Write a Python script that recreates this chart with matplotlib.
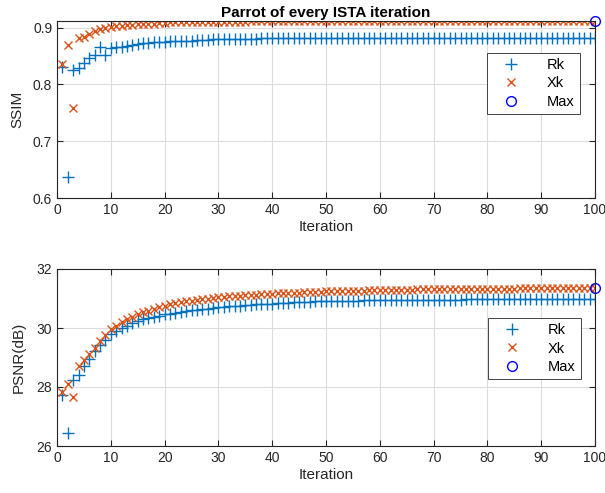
import matplotlib
matplotlib.use("Agg")
import matplotlib.pyplot as plt
import numpy as np

plt.rcParams['font.family'] = ['Liberation Sans', 'DejaVu Sans']

iterations = list(range(1, 101))

ssim_rk = [0.830, 0.637, 0.826, 0.829, 0.838, 0.846, 0.851, 0.866, 0.852, 0.864,
           0.866, 0.866, 0.867, 0.869, 0.871, 0.872, 0.873, 0.874, 0.874, 0.875,
           0.876, 0.876, 0.877, 0.877, 0.877, 0.878, 0.878, 0.878, 0.879, 0.879,
           0.879, 0.879, 0.880, 0.880, 0.880, 0.880, 0.880, 0.881, 0.881, 0.881,
           0.881, 0.881, 0.881, 0.881, 0.881, 0.881, 0.881, 0.882, 0.882, 0.882,
           0.882, 0.882, 0.882, 0.882, 0.882, 0.882, 0.882, 0.882, 0.882, 0.882,
           0.882, 0.882, 0.882, 0.882, 0.882, 0.882, 0.882, 0.882, 0.882, 0.882,
           0.882, 0.882, 0.882, 0.882, 0.882, 0.882, 0.882, 0.882, 0.882, 0.882,
           0.882, 0.882, 0.882, 0.882, 0.882, 0.882, 0.882, 0.882, 0.882, 0.882,
           0.882, 0.882, 0.882, 0.882, 0.882, 0.882, 0.882, 0.882, 0.882, 0.882]

ssim_xk = [0.835, 0.870, 0.758, 0.881, 0.883, 0.888, 0.893, 0.897, 0.899, 0.901,
           0.902, 0.903, 0.904, 0.905, 0.906, 0.906, 0.907, 0.907, 0.908, 0.908,
           0.909, 0.909, 0.909, 0.910, 0.910, 0.910, 0.910, 0.910, 0.9105, 0.9105,
           0.9105, 0.9105, 0.9105, 0.9105, 0.9105, 0.911, 0.911, 0.911, 0.911, 0.911,
           0.911, 0.911, 0.911, 0.911, 0.911, 0.911, 0.911, 0.911, 0.911, 0.911,
           0.911, 0.911, 0.911, 0.911, 0.911, 0.911, 0.911, 0.911, 0.911, 0.911,
           0.9112, 0.9112, 0.9112, 0.9112, 0.9112, 0.9112, 0.9112, 0.9112, 0.9112, 0.9112,
           0.9114, 0.9114, 0.9114, 0.9114, 0.9114, 0.9114, 0.9114, 0.9114, 0.9114, 0.9114,
           0.9116, 0.9116, 0.9116, 0.9116, 0.9116, 0.9116, 0.9116, 0.9116, 0.9116, 0.9116,
           0.9118, 0.9118, 0.9118, 0.9118, 0.9118, 0.9118, 0.9118, 0.9118, 0.9118, 0.9120]

psnr_rk = [27.72, 26.45, 28.24, 28.40, 28.70, 28.96, 29.22, 29.44, 29.60, 29.78,
           29.90, 30.00, 30.08, 30.16, 30.23, 30.29, 30.34, 30.38, 30.42, 30.46,
           30.49, 30.52, 30.55, 30.58, 30.60, 30.62, 30.64, 30.66, 30.68, 30.70,
           30.72, 30.73, 30.75, 30.76, 30.78, 30.79, 30.80, 30.81, 30.82, 30.83,
           30.84, 30.85, 30.86, 30.87, 30.88, 30.88, 30.89, 30.90, 30.90, 30.91,
           30.91, 30.92, 30.92, 30.93, 30.93, 30.93, 30.94, 30.94, 30.94, 30.94,
           30.94, 30.94, 30.94, 30.94, 30.95, 30.95, 30.95, 30.96, 30.96, 30.96,
           30.96, 30.96, 30.96, 30.96, 30.96, 30.97, 30.97, 30.97, 30.97, 30.97,
           30.97, 30.97, 30.97, 30.97, 30.97, 30.97, 30.97, 30.97, 30.97, 30.97,
           30.97, 30.97, 30.97, 30.97, 30.97, 30.97, 30.97, 30.97, 30.97, 30.97]

psnr_xk = [27.84, 28.10, 27.67, 28.70, 28.92, 29.12, 29.32, 29.55, 29.75, 29.95,
           30.08, 30.20, 30.30, 30.38, 30.46, 30.53, 30.59, 30.65, 30.70, 30.75,
           30.80, 30.84, 30.87, 30.90, 30.93, 30.96, 30.98, 31.00, 31.02, 31.04,
           31.06, 31.07, 31.09, 31.10, 31.11, 31.12, 31.13, 31.14, 31.15, 31.16,
           31.17, 31.18, 31.19, 31.20, 31.20, 31.21, 31.22, 31.22, 31.23, 31.24,
           31.24, 31.25, 31.25, 31.26, 31.26, 31.27, 31.27, 31.28, 31.28, 31.29,
           31.29, 31.29, 31.30, 31.30, 31.30, 31.30, 31.31, 31.31, 31.31, 31.31,
           31.31, 31.32, 31.32, 31.32, 31.32, 31.32, 31.32, 31.33, 31.33, 31.33,
           31.33, 31.33, 31.33, 31.33, 31.33, 31.34, 31.34, 31.34, 31.34, 31.34,
           31.34, 31.34, 31.34, 31.34, 31.345, 31.345, 31.345, 31.345, 31.345, 31.35]

title = "Parrot of every ISTA iteration"
legend_labels = ["Rk", "Xk", "Max"]

C_BLUE = '#0072BD'
C_ORANGE = '#D95319'
AX_COLOR = '#262626'

fig = plt.figure(figsize=(6.05, 4.93), dpi=100)
fig.patch.set_facecolor('white')

ax1 = fig.add_axes([57/605, 1-198/493, 538/605, 177.3/493])
ax2 = fig.add_axes([57/605, 1-446/493, 538/605, 177/493])


def style(ax):
    ax.grid(True, color='#dcdcdc', linewidth=0.8)
    ax.set_axisbelow(True)
    for s in ax.spines.values():
        s.set_color(AX_COLOR)
        s.set_linewidth(0.8)
    ax.tick_params(direction='in', top=True, right=True, length=4,
                   color=AX_COLOR, labelsize=10, labelcolor=AX_COLOR, width=0.8)
    ax.set_xlim(0, 100)
    ax.set_xticks(range(0, 101, 10))


def draw(ax, rk, xk):
    ax.plot(iterations, rk, linestyle='none', marker='+', color=C_BLUE,
            markersize=8, markeredgewidth=1.0, label=legend_labels[0])
    ax.plot(iterations, xk, linestyle='none', marker='x', color=C_ORANGE,
            markersize=6, markeredgewidth=1.0, label=legend_labels[1])
    arr = np.asarray(xk)
    i = len(arr) - 1 - int(np.argmax(arr[::-1]))
    ax.plot(iterations[i], xk[i], linestyle='none', marker='o', color='#0000FF',
            markerfacecolor='none', markersize=7, markeredgewidth=1.0,
            label=legend_labels[2], clip_on=False)


draw(ax1, ssim_rk, ssim_xk)
style(ax1)
ax1.set_ylim(0.6, max(ssim_xk))
ax1.set_yticks([0.6, 0.7, 0.8, 0.9])
ax1.set_yticklabels(['0.6', '0.7', '0.8', '0.9'])
ax1.set_ylabel('SSIM', fontsize=11, color=AX_COLOR, labelpad=6)
ax1.set_xlabel('Iteration', fontsize=11, color=AX_COLOR, labelpad=2)
ax1.set_title(title, fontsize=11, fontweight='bold', pad=3)

draw(ax2, psnr_rk, psnr_xk)
style(ax2)
ax2.set_ylim(26, 32)
ax2.set_yticks([26, 28, 30, 32])
ax2.set_ylabel('PSNR(dB)', fontsize=11, color=AX_COLOR, labelpad=8)
ax2.set_xlabel('Iteration', fontsize=11, color=AX_COLOR, labelpad=2)


def legend(ax, anchor):
    leg = ax.legend(loc='upper right', bbox_to_anchor=anchor, fontsize=10.5,
                    frameon=True, fancybox=False, framealpha=1,
                    edgecolor=AX_COLOR, handlelength=2.6, handletextpad=1.2,
                    borderpad=0.35, labelspacing=0.3, borderaxespad=0,
                    markerscale=1.0)
    leg.get_frame().set_linewidth(0.6)
    for t in leg.get_texts():
        t.set_color('#000000')
    return leg


legend(ax1, (0.972, 0.818))
legend(ax2, (0.974, 0.723))

fig.savefig('out.png', dpi=100, facecolor='white')
